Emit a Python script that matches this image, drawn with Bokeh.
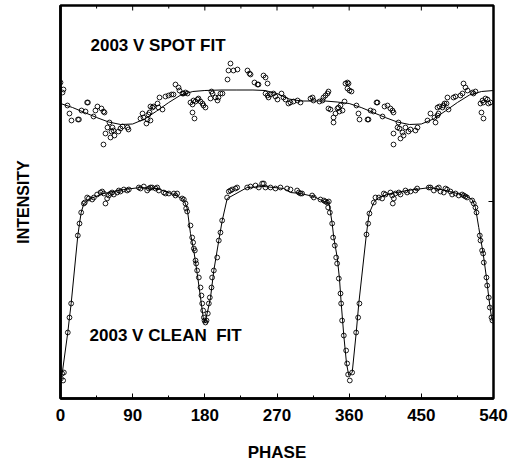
import math
from bokeh.plotting import figure
from bokeh.models import Range1d, FixedTicker, Label
from bokeh.embed import file_html
from bokeh.resources import INLINE

# ---------------- data ----------------
x_ticks = [0, 90, 180, 270, 360, 450, 540]
x_minor = [45, 135, 225, 315, 405, 495]
x_label = "PHASE"
y_label = "INTENSITY"
spot_title = "2003 V SPOT FIT"
clean_title = "2003 V CLEAN\u00a0 FIT"
y_top = 3.93
right_tick = [1.97]

# spot-model fit (upper curve)
spot_fit_phase = [0, 15, 30, 45, 60, 75, 90, 105, 120, 135, 150, 165, 180, 200, 220, 240, 255,
                  270, 285, 300, 315, 330, 345, 360, 375, 390, 405, 420, 435, 450, 465, 480,
                  495, 510, 525, 540]
spot_fit_int = [2.95, 2.91, 2.86, 2.81, 2.765, 2.74, 2.745, 2.795, 2.875, 2.96, 3.035, 3.07, 3.08,
                3.085, 3.085, 3.085, 3.08, 3.05, 2.995, 2.975, 2.975, 2.975, 2.965, 2.95, 2.91,
                2.86, 2.81, 2.765, 2.74, 2.745, 2.795, 2.875, 2.96, 3.035, 3.07, 3.08]

# spot observations
spot_obs_phase = [0, 3.7, 2.5, 8.7, 11.2, 13.7, 21.8, 23.0, 26.2, 31.2, 33.2, 34.2, 41.2, 43.6,
                  46.1, 51.1, 53.6, 54.9, 53.6, 56.1, 58.6, 61.1, 64.8, 63.6, 62.4, 67.3, 66.1,
                  72.3, 74.8, 77.3, 83.6, 84.8, 99.8, 102.3, 103.5, 107.2, 108.5, 109.7, 111.0,
                  112.2, 112.2, 114.7, 116.0, 121.0, 122.2, 127.2, 123.5, 130.9, 134.7, 138.4,
                  140.9, 143.4, 147.2, 148.4, 152.1, 153.4, 155.9, 158.4, 162.1, 164.6, 165.9,
                  168.4, 170.9, 172.1, 174.6, 177.1, 178.3, 180.8, 164.6, 167.1, 187.1, 189.6,
                  188.3, 193.3, 195.8, 197.0, 199.5, 202.0, 208.3, 209.5, 212.0, 215.7, 220.7,
                  233.2, 235.7, 237.0, 241.9, 245.7, 246.9, 253.2, 255.7, 258.2, 255.7, 258.2,
                  259.4, 261.9, 265.6, 268.1, 270.6, 275.6, 278.1, 280.6, 284.3, 286.8, 290.6,
                  295.6, 299.3, 311.8, 314.3, 315.5, 323.0, 326.7, 328.0, 330.5, 333.0, 334.2,
                  334.2, 336.7, 340.5, 343.0, 345.4, 346.7, 349.2, 347.9, 351.7, 340.5, 355.4,
                  357.9, 359.2, 357.9, 360.4, 362.9, 354.2, 369.1, 371.6, 372.9, 382.9, 384.1,
                  386.6, 390.3, 394.1, 395.3, 401.6, 404.1, 407.8, 411.5, 414.0, 415.3, 421.5,
                  420.3, 415.3, 424.0, 422.8, 426.5, 427.8, 430.2, 434.0, 436.5, 442.7, 445.2,
                  415.3, 457.7, 461.4, 466.4, 467.7, 470.2, 471.4, 470.2, 472.6, 476.4, 477.6,
                  478.9, 481.4, 483.9, 482.6, 490.1, 492.6, 498.8, 501.3, 502.6, 505.1, 507.6,
                  513.8, 515.0, 517.5, 523.8, 526.3, 527.5, 530.0, 532.5, 533.7, 536.2, 525.0,
                  527.5]
spot_obs_int = [3.16, 3.09, 3.06, 2.93, 2.85, 2.78, 2.79, 2.79, 2.88, 2.87, 2.96, 2.96, 2.82, 2.88,
                2.92, 2.90, 2.87, 2.86, 2.54, 2.65, 2.71, 2.76, 2.71, 2.67, 2.61, 2.63, 2.68,
                2.67, 2.70, 2.72, 2.71, 2.69, 2.80, 2.85, 2.81, 2.75, 2.79, 2.84, 2.86,
                2.78, 2.92, 2.91, 2.92, 2.95, 2.91, 2.89, 3.01, 3.02, 3.03, 3.04,
                3.04, 3.14, 3.11, 3.08, 3.05, 3.05, 3.06, 3.05, 2.96, 2.94, 2.98,
                2.97, 2.99, 3.00, 2.97, 2.95, 2.93, 2.91, 2.86, 2.80, 3.00, 3.05,
                3.07, 3.01, 2.98, 3.01, 3.05, 3.05, 3.19, 3.28, 3.35, 3.28, 3.29,
                3.28, 3.25, 3.24, 3.16, 3.14, 3.14, 3.23, 3.21, 3.15, 3.05, 3.03,
                3.01, 3.04, 3.05, 3.02, 2.99, 3.05, 3.01, 2.99, 2.95, 2.96, 2.97,
                2.98, 2.96, 3.00, 3.01, 2.98, 2.97, 2.98, 3.01, 3.03, 3.05, 3.07,
                2.90, 2.89, 2.81, 2.85, 2.90, 2.91, 2.93, 2.87, 2.88, 2.76, 3.15,
                3.16, 3.15, 3.10, 3.08, 3.07, 2.97, 2.93, 2.85, 2.79, 2.79, 2.79,
                2.88, 2.87, 2.96, 2.96, 2.82, 2.92, 2.93, 2.90, 2.88, 2.86, 2.76,
                2.71, 2.65, 2.60, 2.70, 2.66, 2.63, 2.71, 2.67, 2.69, 2.68, 2.71,
                2.54, 2.78, 2.85, 2.81, 2.76, 2.83, 2.85, 2.91, 2.92, 2.91, 2.93,
                2.95, 2.95, 2.89, 3.01, 3.01, 3.02, 3.03, 3.05, 3.15, 3.11, 3.08,
                3.06, 3.05, 3.07, 2.95, 2.98, 2.96, 3.00, 2.99, 2.95, 2.96, 2.86,
                2.80]

# clean (eclipse) fit (lower curve)
clean_fit_phase = [0, 2.1, 9.1, 11.2, 13.3, 21.6, 23.7, 25.8, 29.1, 31.2, 37.4, 54.0, 78.9, 99.8,
                   120.6, 141.3, 153.8, 158.0, 162.1, 166.2, 170.5, 174.6, 178.0, 180.0, 182.9,
                   187.1, 191.2, 197.4, 201.7, 207.9, 232.8, 253.5, 278.5, 286.8, 299.3, 315.9,
                   328.4, 334.6, 336.7, 338.8, 340.8, 345.1, 347.9, 350.1, 353.3, 356.7, 359.5,
                   363.8, 368.8, 372.0, 381.6, 384.9, 390.7, 396.9, 411.5, 432.4, 461.4, 486.4,
                   507.2, 513.4, 517.5, 521.6, 527.1, 531.2, 534.1, 537.5, 540]
clean_fit_int = [0.22, 0.25, 0.66, 0.81, 0.95, 1.63, 1.75, 1.86, 1.95, 1.96, 2.00, 2.05, 2.09, 2.11,
                 2.10, 2.04, 1.99, 1.90, 1.65, 1.48, 1.25, 1.01, 0.81, 0.76, 0.85,
                 1.01, 1.28, 1.58, 1.78, 2.00, 2.11, 2.12, 2.10, 2.06, 2.05, 2.02,
                 1.97, 1.96, 1.86, 1.75, 1.61, 1.41, 1.20, 0.95, 0.63, 0.35, 0.23,
                 0.26, 0.66, 0.95, 1.65, 1.85, 1.96, 2.01, 2.05, 2.08, 2.11, 2.07,
                 2.02, 1.99, 1.91, 1.71, 1.45, 1.21, 1.01, 0.81, 0.77]

# clean observations
clean_obs_phase = [0.5, 2.0, 3.3, 4.2, 9.1, 11.2, 13.3, 21.6, 23.7, 25.8, 29.1,
                   30.3, 33.3, 35.3, 39.5, 41.6, 45.7, 49.9, 52.0, 54.0, 56.1, 58.2, 60.3, 62.4,
                   64.4, 66.5, 70.7, 72.7, 74.8, 79.0, 83.1, 85.2, 97.7, 99.8, 103.9, 108.1, 110.2,
                   112.2, 114.3, 118.5, 120.6, 122.6, 128.9, 131.0, 135.1, 141.4, 143.4, 145.5,
                   151.7, 153.8, 155.9, 156.7, 158.0, 162.1, 164.2, 165.4, 166.3, 167.5, 168.4,
                   169.2, 170.4, 172.5, 174.6, 175.8, 176.7, 177.9, 178.8, 179.6, 180.8, 182.1,
                   183.7, 185.0, 186.2, 188.3, 189.1, 191.2, 195.4, 197.4, 199.5, 201.6, 207.8,
                   209.9, 212.0, 214.1, 218.2, 220.3, 232.8, 236.9, 243.2, 247.3, 251.5, 253.5,
                   255.6, 261.9, 268.1, 274.3, 282.6, 286.8, 295.1,
                   297.2, 299.3, 301.3, 313.8, 315.9, 324.2, 328.4, 330.4, 332.5, 334.6, 333.8,
                   335.9, 338.8, 340.0, 342.1, 343.8, 345.0, 347.1, 349.2, 350.0, 351.2, 353.3,
                   356.2, 357.5, 358.7, 360.8, 363.7, 368.7, 371.2, 372.8, 381.6, 383.7, 385.3,
                   390.7, 392.8, 397.0, 401.1, 403.2, 405.3, 411.5, 413.6, 415.7, 414.4, 417.7,
                   421.9, 424.0, 430.2, 432.3, 436.5, 442.7, 444.8, 459.3, 461.4, 465.6, 469.7,
                   471.8, 473.9, 478.0, 480.1, 482.2, 486.3, 488.4, 492.6, 496.7, 500.9, 503.0,
                   505.0, 507.1, 513.4, 515.4, 517.5, 518.8, 522.9, 523.8, 525.8, 527.1, 527.9,
                   531.2, 532.1, 534.1, 535.4, 537.5, 538.7]
clean_obs_int = [0.20, 0.25, 0.18, 0.26, 0.66, 0.81, 0.95, 1.63, 1.75, 1.86, 1.95,
                 1.96, 2.01, 2.00, 1.99, 2.01, 2.04, 2.06, 2.07, 2.05, 1.95, 2.00, 2.03, 2.05,
                 2.06, 2.04, 2.06, 2.08, 2.07, 2.09, 2.08, 2.09, 2.11, 2.10, 2.12, 2.08, 2.10,
                 2.11, 2.11, 2.10, 2.11, 2.08, 2.06, 2.05, 2.05, 2.05, 2.03, 2.05,
                 2.00, 1.99, 1.95, 1.90, 1.87, 1.73, 1.61, 1.56, 1.50, 1.48, 1.38,
                 1.35, 1.28, 1.21, 1.11, 1.03, 0.95, 0.88, 0.81, 0.78, 0.76, 0.78,
                 0.85, 0.95, 1.01, 1.11, 1.21, 1.28, 1.41, 1.58, 1.66, 1.78, 2.01,
                 2.07, 2.08, 2.09, 2.10, 2.11, 2.11, 2.12, 2.13, 2.11, 2.15, 2.15,
                 2.11, 2.11, 2.10, 2.11, 2.10, 2.09, 2.08,
                 2.06, 2.05, 2.05, 2.03, 2.01, 1.99, 1.98, 1.97, 1.96, 1.97, 1.91,
                 1.86, 1.75, 1.61, 1.53, 1.41, 1.35, 1.20, 1.05, 0.95, 0.78, 0.63,
                 0.48, 0.35, 0.24, 0.18, 0.26, 0.66, 0.81, 0.95, 1.64, 1.75, 1.85,
                 1.96, 2.01, 2.01, 2.00, 2.05, 2.04, 2.06, 2.03, 2.00, 1.95, 2.05,
                 2.06, 2.04, 2.08, 2.06, 2.07, 2.08, 2.10, 2.11, 2.11, 2.08, 2.10,
                 2.11, 2.07, 2.06, 2.10, 2.09, 2.07, 2.04, 2.05, 2.03, 2.04, 2.03,
                 2.02, 2.01, 1.98, 1.95, 1.91, 1.86, 1.63, 1.58, 1.48, 1.45, 1.36,
                 1.21, 1.13, 1.01, 0.91, 0.81, 0.78]

# ---------------- figure ----------------
FONT = "'Liberation Sans', Arial, Helvetica, sans-serif"

p = figure(width=519, height=465, x_range=Range1d(0, 540), y_range=Range1d(0, y_top),
           output_backend="svg", toolbar_location=None,
           min_border_left=60, min_border_right=26, min_border_top=5, min_border_bottom=67)
p.grid.visible = False
p.background_fill_color = "white"
p.border_fill_color = "white"
p.outline_line_color = "black"
p.outline_line_width = 2.5

# bottom axis
xa = p.xaxis[0]
xa.ticker = FixedTicker(ticks=x_ticks, minor_ticks=x_minor)
xa.axis_line_width = 2.5
xa.major_tick_in = 5
xa.major_tick_out = 0
xa.minor_tick_in = 3
xa.minor_tick_out = 0
xa.major_label_standoff = 10
xa.major_label_text_font = FONT
xa.major_label_text_font_style = "bold"
xa.major_label_text_font_size = "17px"
xa.major_label_text_color = "black"
xa.axis_label = x_label
xa.axis_label_text_font = FONT
xa.axis_label_text_font_style = "bold"
xa.axis_label_text_font_size = "17px"
xa.axis_label_text_color = "black"
xa.axis_label_standoff = 19

# left axis (label only)
ya = p.yaxis[0]
ya.ticker = FixedTicker(ticks=[])
ya.axis_line_width = 2.5
ya.major_tick_line_color = None
ya.minor_tick_line_color = None
ya.axis_label = y_label
ya.axis_label_text_font = FONT
ya.axis_label_text_font_style = "bold"
ya.axis_label_text_font_size = "16px"
ya.axis_label_text_color = "black"
ya.axis_label_standoff = 29

# inner ticks on the top and right frame edges (drawn as dash markers, clipped by the frame)
p.scatter(x_ticks, [y_top] * len(x_ticks), marker="dash", angle=math.pi / 2, size=10,
          line_color="black", line_width=1)
p.scatter(x_minor, [y_top] * len(x_minor), marker="dash", angle=math.pi / 2, size=6,
          line_color="black", line_width=1)
p.scatter([540] * len(right_tick), right_tick, marker="dash", size=10,
          line_color="black", line_width=1)

# curves
p.line(spot_fit_phase, spot_fit_int, line_color="black", line_width=1)
p.scatter(spot_obs_phase, spot_obs_int, marker="circle", size=4.8,
          fill_alpha=0, line_color="black", line_width=0.9)
p.line(clean_fit_phase, clean_fit_int, line_color="black", line_width=1)
p.scatter(clean_obs_phase, clean_obs_int, marker="circle", size=4.8,
          fill_alpha=0, line_color="black", line_width=0.9)

# annotations
p.add_layout(Label(x=37.4, y=3.53, text=spot_title, text_font=FONT, text_font_style="bold",
                   text_font_size="17px", text_color="black", text_baseline="alphabetic"))
p.add_layout(Label(x=36.2, y=0.63, text=clean_title, text_font=FONT, text_font_style="bold",
                   text_font_size="17px", text_color="black", text_baseline="alphabetic"))

open("out.html", "w").write(file_html(p, INLINE))
